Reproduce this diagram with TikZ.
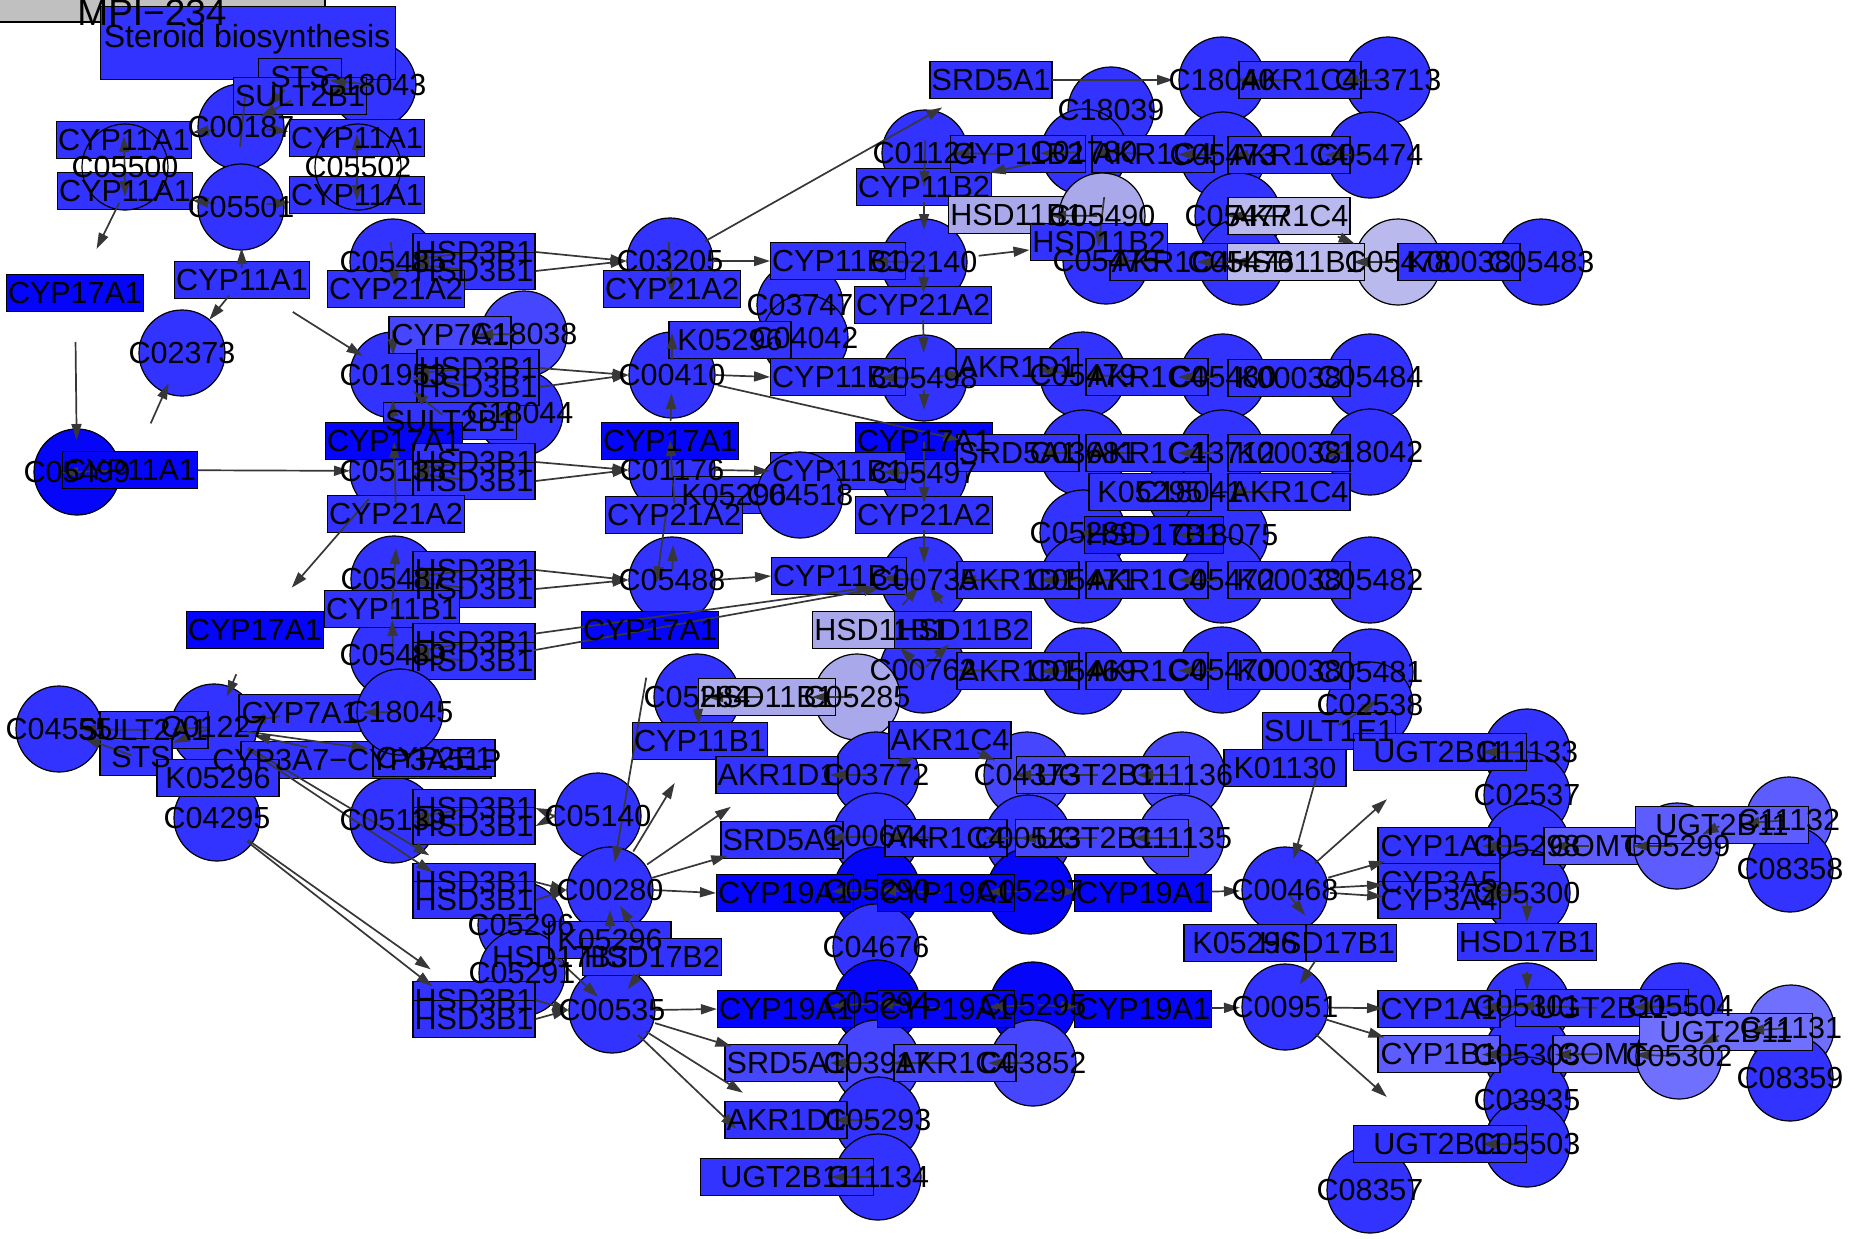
\documentclass[tikz,border=0pt]{standalone}
\usepackage{fontspec}
\usepackage{etoolbox}
\setmainfont{Liberation Sans}
\usetikzlibrary{arrows.meta,calc}
\definecolor{cm}{RGB}{51,51,255}
\definecolor{cm2}{RGB}{32,32,255}
\definecolor{cd}{RGB}{5,5,250}
\definecolor{cl}{RGB}{70,70,255}
\definecolor{cl2}{RGB}{92,92,255}
\definecolor{cl3}{RGB}{112,112,255}
\definecolor{lav}{RGB}{168,168,234}
\definecolor{lav2}{RGB}{185,185,238}
\definecolor{eg}{RGB}{55,55,55}
\definecolor{hdr}{RGB}{192,192,192}
\newcommand\myfont{\fontsize{30.5}{30.5}\selectfont}
\tikzset{
 cpd/.style={circle,draw=black,line width=1.2pt,fill=cm,minimum size=86pt,inner sep=0pt},
 enz/.style={rectangle,draw=black,line width=1.2pt,fill=cm,minimum height=37pt,minimum width=122pt,inner xsep=1.5pt,inner ysep=0pt,font=\myfont},
 txt/.style={inner sep=0pt,font=\myfont},
 arr/.style={draw=eg,line width=1.7pt,-{Triangle[length=16pt,width=10pt]}},
 ln/.style={draw=eg,line width=1.7pt},
}
\newcommand\alltexts{}
\newcommand\mycp[5][]{\node[cpd,#1] (#2) at (#3,#4) {};\gappto\alltexts{\node[txt] at (#3,#4) {#5};}}
\newcommand\myen[5][]{\node[enz,#1] (#2) at (#3,#4) {\phantom{#5}};\gappto\alltexts{\node[txt] at (#3,#4) {#5};}}
\newcommand\myed[4]{\draw[arr,shorten <=#3pt,shorten >=#4pt] (#1.center) -- (#2.center);}
\begin{document}
\begin{tikzpicture}[x=1pt,y=-1pt]
\useasboundingbox (0,0) rectangle (1855,1239);
\clip (0,0) rectangle (1855,1239);
\fill[white] (0,0) rectangle (1855,1239);
% header
\draw[fill=hdr,line width=1.2pt] (-5,-10) rectangle (325,22);
\mycp{c18043}{373}{85}{C18043}
\node[enz,minimum width=295pt,minimum height=73pt,anchor=north west] (steroid) at (100,6) {};
% ---------- compounds ----------
\mycp{c00187}{241}{127}{C00187}
\mycp{c05501}{241}{207}{C05501}
\mycp{c02373}{182}{353}{C02373}
\mycp[fill=cd]{c05499}{77}{472}{C05499}
\mycp{c05485}{393}{262}{C05485}
\mycp[fill=cl]{c18038}{524}{334}{C18038}
\mycp{c01953}{393}{375}{C01953}
\mycp{c18044}{520}{413}{C18044}
\mycp{c05138}{393}{471}{C05138}
\mycp{c05487}{394}{579}{C05487}
\mycp{c05489}{393}{655}{C05489}
\mycp{c03205}{670}{261}{C03205}
\mycp{c03747}{800}{305}{C03747}
\mycp{c04042}{805}{338}{C04042}
\mycp{c00410}{672}{375}{C00410}
\mycp{c01176}{672}{470}{C01176}
\mycp{c05488}{672}{580}{C05488}
\mycp{c01124}{925}{153}{C01124}
\mycp{c02140}{924}{262}{C02140}
\mycp{c05498}{924}{378}{C05498}
\mycp{c05497}{924}{473}{C05497}
\mycp{c00735}{924}{580}{C00735}
\mycp{c00762}{923}{670}{C00762}
\mycp{c18039}{1111}{110}{C18039}
\mycp{c18040}{1222}{80}{C18040}
\mycp{c13713}{1388}{80}{C13713}
\mycp{c01780}{1084}{152}{C01780}
\mycp{c05473}{1223}{155}{C05473}
\mycp{c05474}{1370}{155}{C05474}
\mycp{c05477}{1238}{216}{C05477}
\mycp{c05475}{1106}{261}{C05475}
\mycp{c05476}{1241}{262}{C05476}
\mycp[fill=lav2]{c05478}{1398}{262}{C05478}
\mycp{c05483}{1541}{262}{C05483}
\mycp{c05479}{1083}{375}{C05479}
\mycp{c05480}{1223}{377}{C05480}
\mycp{c05484}{1370}{377}{C05484}
\mycp{c03681}{1083}{453}{C03681}
\mycp{c18041}{1190}{492}{C18041}
\mycp{c13712}{1222}{453}{C13712}
\mycp{c18042}{1370}{452}{C18042}
\mycp{c05289}{1083}{533}{C05289}
\mycp{c18075}{1225}{535}{C18075}
\mycp{c05471}{1083}{580}{C05471}
\mycp{c05472}{1222}{580}{C05472}
\mycp{c05482}{1370}{580}{C05482}
\mycp{c05469}{1083}{671}{C05469}
\mycp{c05470}{1222}{670}{C05470}
\mycp{c05481}{1370}{672}{C05481}
\mycp{c02538}{1370}{705}{C02538}
\mycp{c11133}{1527}{752}{C11133}
\mycp{c02537}{1527}{795}{C02537}
\mycp{c05284}{697}{697}{C05284}
\mycp[fill=lav]{c05285}{857}{697}{C05285}
\mycp{c03772}{876}{775}{C03772}
\mycp{c00674}{876}{836}{C00674}
\mycp[fill=cd]{c05290}{877}{890}{C05290}
\mycp{c04676}{876}{947}{C04676}
\mycp[fill=cd]{c05294}{877}{1003}{C05294}
\mycp[fill=cl]{c03917}{877}{1063}{C03917}
\mycp{c05293}{878}{1120}{C05293}
\mycp{c11134}{878}{1177}{C11134}
\mycp[fill=cl]{c04373}{1027}{775}{C04373}
\mycp{c00523}{1028}{838}{C00523}
\mycp[fill=cd]{c05297}{1030}{891}{C05297}
\mycp[fill=cd]{c05295}{1033}{1005}{C05295}
\mycp[fill=cl]{c03852}{1033}{1063}{C03852}
\mycp[fill=cl]{c11136}{1182}{775}{C11136}
\mycp[fill=cl]{c11135}{1181}{838}{C11135}
\mycp{c00468}{1285}{890}{C00468}
\mycp{c00951}{1285}{1007}{C00951}
\mycp{c05298}{1527}{846}{C05298}
\mycp{c05300}{1527}{893}{C05300}
\mycp{c05301}{1527}{1006}{C05301}
\mycp{c05303}{1527}{1055}{C05303}
\mycp{c03935}{1527}{1100}{C03935}
\mycp{c05503}{1527}{1144}{C05503}
\mycp{c08357}{1370}{1190}{C08357}
\mycp[fill=cl2]{c11132}{1789}{820}{C11132}
\mycp{c08358}{1790}{869}{C08358}
\mycp{c05504}{1680}{1006}{C05504}
\mycp[fill=cl3]{c11131}{1791}{1028}{C11131}
\mycp{c08359}{1790}{1078}{C08359}
\mycp{c04555}{59}{729}{C04555}
\mycp{c01227}{214}{727}{C01227}
\mycp{c04295}{217}{818}{C04295}
\mycp{c05139}{393}{820}{C05139}
\mycp{c05140}{598}{816}{C05140}
\mycp{c00280}{610}{890}{C00280}
\mycp{c05296}{521}{925}{C05296}
\mycp{c05291}{522}{973}{C05291}
\mycp{c00535}{612}{1010}{C00535}
% ---------- enzymes ----------
\myen[minimum width=83pt]{sts1}{300}{77}{STS}
\myen{sult2b1a}{300}{96}{SULT2B1}
\myen{cyp11a1a}{124}{140}{CYP11A1}
\myen{cyp11a1b}{125}{191}{CYP11A1}
\myen{cyp11a1c}{357}{138}{CYP11A1}
\myen{cyp11a1cc}{357}{195}{CYP11A1}
\myen[fill=cd]{cyp17a1a}{75}{293}{CYP17A1}
\myen{cyp11a1d}{242}{280}{CYP11A1}
\myen[fill=cd]{cyp11a1e}{130}{470}{CYP11A1}
\myen{hsdA1}{474}{252}{HSD3B1}
\myen{hsdA2}{474}{271}{HSD3B1}
\myen{cyp21a2a}{396}{289}{CYP21A2}
\myen[fill=cl]{cyp7a1a}{450}{335}{CYP7A1}
\myen{hsdB1}{478}{368}{HSD3B1}
\myen{hsdB2}{478}{387}{HSD3B1}
\myen{sult2b1b}{450}{421}{SULT2B1}
\myen[fill=cd]{cyp17a1b}{394}{441}{CYP17A1}
\myen{hsdC1}{474}{462}{HSD3B1}
\myen{hsdC2}{474}{481}{HSD3B1}
\myen{cyp21a2b}{396}{514}{CYP21A2}
\myen{hsdD1}{474}{570}{HSD3B1}
\myen{hsdD2}{474}{589}{HSD3B1}
\myen{cyp11b1a}{392}{609}{CYP11B1}
\myen{hsdE1}{474}{642}{HSD3B1}
\myen{hsdE2}{474}{661}{HSD3B1}
\myen[fill=cd]{cyp17a1c}{255}{630}{CYP17A1}
\myen{cyp21a2c}{672}{289}{CYP21A2}
\myen{k05296a}{730}{340}{K05296}
\myen[fill=cd]{cyp17a1d}{670}{441}{CYP17A1}
\myen{k05296b}{734}{495}{K05296}
\myen{cyp21a2d}{674}{515}{CYP21A2}
\myen[fill=cd]{cyp17a1e}{650}{630}{CYP17A1}
\myen{cyp11b1b}{838}{261}{CYP11B1}
\myen{cyp21a2e}{923}{305}{CYP21A2}
\myen{cyp11b1c}{838}{377}{CYP11B1}
\myen[fill=cd]{cyp17a1f}{924}{441}{CYP17A1}
\myen{cyp11b1d}{838}{471}{CYP11B1}
\myen{cyp21a2f}{924}{515}{CYP21A2}
\myen{cyp11b1e}{839}{576}{CYP11B1}
\myen[fill=lav]{hsd11b1a}{881}{630}{HSD11B1}
\myen{hsd11b2a}{963}{630}{HSD11B2}
\myen{cyp11b2a}{924}{187}{CYP11B2}
\myen{srd5a1a}{991}{80}{SRD5A1}
\myen{akr1c4r0}{1300}{80}{AKR1C4}
\myen{cyp11b2b}{1018}{154}{CYP11B2}
\myen{akr1c4r1a}{1153}{154}{AKR1C4}
\myen{akr1c4r1b}{1289}{155}{AKR1C4}
\myen[fill=lav]{hsd11b1b}{1017}{215}{HSD11B1}
\myen[fill=lav2]{akr1c4lav}{1289}{216}{AKR1C4}
\myen{akr1c4r2}{1171}{262}{AKR1C4}
\myen[fill=lav2]{hsd11b1c}{1296}{262}{HSD11B1}
\myen{k00038a}{1459}{262}{K00038}
\myen{akr1d1a}{1017}{367}{AKR1D1}
\myen{akr1c4r3}{1147}{377}{AKR1C4}
\myen{k00038b}{1289}{378}{K00038}
\myen{srd5a1b}{1018}{453}{SRD5A1}
\myen{akr1c4r4}{1147}{453}{AKR1C4}
\myen{k00038c}{1289}{453}{K00038}
\myen{k05295}{1150}{492}{K05295}
\myen{akr1c4r5}{1289}{492}{AKR1C4}
\myen[fill=cm2]{hsd17b1a}{1154}{535}{HSD17B1}
\myen{akr1d1b}{1018}{580}{AKR1D1}
\myen{akr1c4r6}{1147}{580}{AKR1C4}
\myen{k00038d}{1289}{580}{K00038}
\myen{akr1d1c}{1018}{671}{AKR1D1}
\myen{akr1c4r7}{1147}{671}{AKR1C4}
\myen{k00038e}{1289}{671}{K00038}
\myen{sult1e1}{1329}{731}{SULT1E1}
\myen{k01130}{1285}{768}{K01130}
\myen[minimum width=173pt]{ugt2b11a}{1440}{752}{UGT2B11}
\myen{cyp11b1f}{700}{741}{CYP11B1}
\myen[fill=lav]{hsd11b1d}{767}{697}{HSD11B1}
\myen{akr1d1d}{777}{775}{AKR1D1}
\myen{akr1c4m1}{950}{740}{AKR1C4}
\myen[fill=cl,minimum width=173pt]{ugt2b11b}{1103}{775}{UGT2B11}
\myen{srd5a1c}{782}{840}{SRD5A1}
\myen{akr1c4m2}{946}{838}{AKR1C4}
\myen[fill=cl,minimum width=173pt]{ugt2b11c}{1102}{838}{UGT2B11}
\myen[fill=cd]{cyp19a1a}{785}{893}{CYP19A1}
\myen[fill=cd]{cyp19a1b}{946}{893}{CYP19A1}
\myen[fill=cd]{cyp19a1c}{1143}{893}{CYP19A1}
\myen{hsd17b1b}{1327}{943}{HSD17B1}
\myen{k05296c}{1245}{943}{K05296}
\myen[fill=cd]{cyp19a1d}{786}{1009}{CYP19A1}
\myen[fill=cd]{cyp19a1e}{946}{1009}{CYP19A1}
\myen[fill=cd]{cyp19a1f}{1143}{1009}{CYP19A1}
\myen[fill=cl]{srd5a1d}{786}{1063}{SRD5A1}
\myen[fill=cl]{akr1c4m3}{955}{1063}{AKR1C4}
\myen{akr1d1e}{786}{1120}{AKR1D1}
\myen[minimum width=173pt]{ugt2b11d}{787}{1177}{UGT2B11}
\myen{cyp1a1a}{1439}{846}{CYP1A1}
\myen{cyp3a5}{1439}{882}{CYP3A5}
\myen{cyp3a4}{1439}{900}{CYP3A4}
\myen{hsd17b1c}{1527}{942}{HSD17B1}
\myen[fill=cl2,minimum width=100pt]{comta}{1594}{846}{COMT}
\myen{cyp1a1b}{1439}{1009}{CYP1A1}
\myen[minimum width=173pt]{ugt2bf}{1602}{1008}{UGT2B11}
\myen[fill=cl2]{cyp1b1}{1439}{1054}{CYP1B1}
\myen[fill=cl2,minimum width=100pt]{comtb}{1603}{1054}{COMT}
\myen[minimum width=173pt]{ugt2b11h}{1440}{1144}{UGT2B11}
\node[enz,minimum width=108pt] (sult2a1) at (154,730) {};
\node[enz,minimum width=72pt] (sts2) at (136,757) {};
\myen{cyp7a1b}{300}{713}{CYP7A1}
\node[enz,minimum width=250pt] (cyp3a7) at (366,760) {};
\myen{cypb2}{434}{758}{CYP2E1}
\myen{k05296d}{218}{778}{K05296}
\myen{hsdF1}{474}{808}{HSD3B1}
\myen{hsdF2}{474}{826}{HSD3B1}
\myen{hsdG1}{474}{882}{HSD3B1}
\myen{hsdG2}{474}{900}{HSD3B1}
\myen{k05296e}{610}{940}{K05296}
\myen{hsd17b2}{652}{957}{HSD17B2}
\myen{hsdH1}{474}{1000}{HSD3B1}
\myen{hsdH2}{474}{1019}{HSD3B1}
% ---------- shapes drawn on top ----------
\mycp[fill=none]{c05500}{125}{167}{C05500}
\mycp[fill=none]{c05502}{358}{167}{C05502}
\mycp[fill=lav]{c05490}{1102}{216}{C05490}
\mycp{c04518}{800}{495}{C04518}
\mycp{c18045}{400}{712}{C18045}
\mycp[fill=cl2]{c05299}{1677}{846}{C05299}
\mycp[fill=cl3]{c05302}{1679}{1056}{C05302}
\myen{hsd11b2b}{1099}{242}{HSD11B2}
\myen[fill=cl2,minimum width=173pt]{ugt2b11e}{1722}{825}{UGT2B11}
\myen[fill=cl3,minimum width=173pt]{ugt2b11g}{1726}{1032}{UGT2B11}
% ---------- edges ----------
\myed{c00187}{cyp11a1a}{26}{69}
\myed{c00187}{cyp11a1c}{26}{69}
\myed{c05501}{cyp11a1b}{26}{68}
\myed{c05501}{cyp11a1cc}{26}{67}
\draw[arr,{Triangle[length=16pt,width=10pt]}-{Triangle[length=16pt,width=10pt]},shorten <=-4pt,shorten >=-6pt] (cyp11a1a.center) -- (cyp11a1b.center);
\draw[arr,{Triangle[length=16pt,width=10pt]}-{Triangle[length=16pt,width=10pt]},shorten <=-4pt,shorten >=-6pt] (cyp11a1c.center) -- (cyp11a1cc.center);
\myed{cyp11a1d}{c05501}{12}{41}
\myed{c18043}{sts1}{0}{30}
\myed{c18043}{sult2b1a}{0}{30}
\myed{sult2b1a}{c00187}{10}{22}
\myed{sts1}{c00187}{20}{33}
\draw[ln] ($(c00187)+(-1,20)$) -- ($(c00187)+(4,-30)$);
\myed{cyp11a1b}{cyp17a1a}{13}{49}
\myed{cyp17a1a}{c05499}{49}{32}
\myed{cyp11a1e}{c02373}{51}{33}
\myed{cyp11a1d}{c02373}{20}{43}
\myed{cyp11a1d}{c01953}{60}{36}
\myed{cyp11a1e}{c05138}{68}{43}
\myed{cyp11a1e}{c05499}{10}{-15}
% HSD3B1 pairs
\myed{hsdA1}{c05485}{10}{20}
\myed{hsdA2}{c05485}{10}{20}
\draw[arr] (hsdA1.east) -- (c03205.west);
\draw[arr] (hsdA2.east) -- (c03205.west);
\myed{hsdB1}{c01953}{10}{20}
\myed{hsdB2}{c01953}{10}{20}
\draw[arr] (hsdB1.east) -- (c00410.west);
\draw[arr] (hsdB2.east) -- (c00410.west);
\myed{hsdC1}{c05138}{10}{20}
\myed{hsdC2}{c05138}{10}{20}
\draw[arr] (hsdC1.east) -- (c01176.west);
\draw[arr] (hsdC2.east) -- (c01176.west);
\myed{hsdD1}{c05487}{10}{20}
\myed{hsdD2}{c05487}{10}{20}
\draw[arr] (hsdD1.east) -- (c05488.west);
\draw[arr] (hsdD2.east) -- (c05488.west);
\myed{hsdE1}{c05489}{10}{20}
\myed{hsdE2}{c05489}{10}{20}
\myed{hsdE1}{c00735}{61}{52}
\myed{hsdE2}{c00735}{61}{45}
\draw[arr] (c05140.west) -- (hsdF1.east);
\draw[arr] (c05140.west) -- (hsdF2.east);
\myed{hsdF1}{c05139}{10}{20}
\myed{hsdF2}{c05139}{10}{20}
\draw[arr] (hsdG1.east) -- (c00280.west);
\draw[arr] (hsdG2.east) -- (c00280.west);
\draw[arr] (hsdH1.east) -- (c00535.west);
\draw[arr] (hsdH2.east) -- (c00535.west);
\myed{c01227}{hsdG1}{40}{52}
\myed{c01227}{hsdG2}{40}{50}
\myed{c04295}{hsdH1}{38}{53}
\myed{c04295}{hsdH2}{38}{53}
% column 393
\myed{c05485}{cyp21a2a}{-20}{2}
\draw[arr] ($(c01953)+(0,-45)$) -- ($(c01953)+(0,-20)$);
\draw[arr] ($(c01953)+(0,45)$) -- ($(c01953)+(0,25)$);
\myed{cyp21a2b}{cyp17a1b}{11}{1}
\myed{cyp11b1a}{c05487}{0}{-31}
\myed{c05489}{cyp11b1a}{2}{11}
\myed{c05138}{cyp17a1c}{37}{56}
\myed{c18038}{cyp7a1a}{5}{27}
\myed{sult2b1b}{c01953}{10}{25}
\myed{c18044}{sult2b1b}{5}{45}
% column 672
\myed{c03205}{cyp21a2c}{-19}{-4}
\draw[arr] ($(c00410)+(0,-15)$) -- ($(c00410)+(0,-42)$);
\myed{cyp17a1d}{c00410}{20}{18}
\myed{c01176}{cyp17a1d}{-33}{-1}
\myed{c05488}{cyp21a2d}{10}{30}
\myed{c01176}{cyp17a1e}{35}{48}
\draw[arr] (c01176.east) -- (cyp11b1d.west);
\draw[arr] (c00410.east) -- (cyp11b1c.west);
\draw[arr] (c03205.east) -- (cyp11b1b.west);
\draw[arr] (c05488.east) -- (cyp11b1e.west);
\myed{c03205}{srd5a1a}{40}{56}
\myed{c00410}{srd5a1b}{47}{60}
\myed{cyp21a2d}{c00280}{165}{28}
% column 925
\myed{c02140}{cyp11b1b}{5}{34}
\myed{c05498}{cyp11b1c}{5}{42}
\myed{c05497}{cyp11b1d}{5}{45}
\myed{c00735}{cyp11b1e}{5}{43}
\myed{c01124}{cyp11b2a}{-13}{0}
\myed{cyp11b2a}{c02140}{15}{32}
\myed{c02140}{cyp21a2e}{3}{12}
\myed{cyp21a2e}{c05498}{15}{25}
\myed{c05498}{cyp17a1f}{12}{31}
\myed{cyp17a1f}{cyp21a2f}{1}{12}
\myed{cyp21a2f}{c00735}{15}{17}
\myed{hsd11b2a}{c00735}{34}{9}
\myed{hsd11b1a}{c00735}{33}{8}
\myed{c00762}{hsd11b2a}{4}{20}
\myed{c00762}{hsd11b1a}{0}{26}
\myed{akr1d1c}{c00762}{10}{35}
\myed{akr1d1b}{c00735}{10}{36}
\myed{c05498}{akr1d1a}{10}{55}
\myed{c02140}{hsd11b2b}{55}{70}
% right block
\myed{cyp11b2b}{c01124}{5}{28}
\myed{c01780}{cyp11b2a}{40}{67}
\myed{c01780}{cyp11b2b}{5}{22}
\myed{akr1c4r1a}{c01780}{5}{9}
\myed{c05473}{akr1c4r1a}{5}{25}
\myed{akr1c4r1b}{c05473}{5}{9}
\myed{c05474}{akr1c4r1b}{5}{36}
\myed{srd5a1a}{c18040}{61}{49}
\myed{akr1c4r0}{c18040}{5}{16}
\myed{c13713}{akr1c4r0}{5}{42}
\myed{c05490}{hsd11b1b}{5}{33}
\myed{c05490}{hsd11b2b}{-19}{-5}
\myed{akr1c4lav}{c05477}{5}{-10}
\myed{akr1c4lav}{c05478}{53}{47}
\myed{akr1c4r2}{c05475}{5}{6}
\myed{c05476}{akr1c4r2}{5}{26}
\myed{hsd11b1c}{c05476}{5}{-9}
\myed{c05478}{hsd11b1c}{5}{57}
\myed{c05479}{akr1d1a}{5}{21}
\myed{akr1c4r3}{c05479}{5}{2}
\myed{c05480}{akr1c4r3}{5}{31}
\myed{c03681}{srd5a1b}{5}{22}
\myed{akr1c4r4}{c03681}{5}{2}
\myed{c13712}{akr1c4r4}{5}{31}
\myed{k00038c}{c18042}{38}{25}
\myed{akr1c4r5}{c18041}{5}{40}
\myed{hsd17b1a}{c05289}{5}{-5}
\myed{c18075}{hsd17b1a}{5}{24}
\myed{c05471}{akr1d1b}{5}{22}
\myed{akr1c4r6}{c05471}{5}{2}
\myed{c05472}{akr1c4r6}{5}{31}
\myed{c05469}{akr1d1c}{5}{22}
\myed{akr1c4r7}{c05469}{5}{2}
\myed{c05470}{akr1c4r7}{5}{31}
\myed{sult1e1}{c02538}{11}{-8}
\myed{sult1e1}{c00468}{48}{32}
\myed{c00468}{ugt2b11a}{40}{71}
\myed{c00468}{cyp1a1a}{45}{56}
\myed{c00468}{cyp3a5}{45}{56}
\myed{c00468}{cyp3a4}{45}{56}
\myed{c00468}{hsd17b1b}{5}{35}
\myed{hsd17b1b}{c00951}{20}{27}
% CYP19A1 rows
\draw[arr] (c00280.east) -- (cyp19a1a.west);
\myed{c05290}{cyp19a1a}{5}{47}
\myed{cyp19a1b}{c05290}{5}{3}
\myed{c05297}{cyp19a1b}{5}{41}
\myed{c05297}{cyp19a1c}{5}{66}
\myed{cyp19a1c}{c00468}{68}{45}
\draw[arr] (c00535.east) -- (cyp19a1d.west);
\myed{c05294}{cyp19a1d}{5}{44}
\myed{cyp19a1e}{c05294}{5}{0}
\myed{c05295}{cyp19a1e}{5}{42}
\myed{c05295}{cyp19a1f}{5}{66}
\myed{cyp19a1f}{c00951}{68}{45}
\myed{c00951}{cyp1a1b}{42}{56}
\myed{c00951}{cyp1b1}{42}{57}
\myed{c00951}{ugt2b11h}{40}{71}
\myed{c00535}{srd5a1d}{45}{57}
\myed{c00535}{akr1d1e}{40}{51}
\myed{c00535}{ugt2b11d}{36}{70}
\myed{c00280}{cyp11b1f}{45}{49}
\myed{c00280}{akr1d1d}{45}{56}
\myed{c00280}{srd5a1c}{43}{57}
\myed{k05296e}{c00280}{10}{20}
\myed{hsd17b2}{c00280}{30}{19}
\myed{c05296}{c00535}{40}{19}
\myed{hsd17b2}{c00535}{20}{26}
% lower left
\myed{c18045}{cyp7a1b}{5}{63}
\myed{cyp7a1b}{c01227}{20}{36}
\myed{c01227}{cypb2}{33}{67}
\myed{cyp3a7}{c01227}{60}{41}
\myed{cyp17a1c}{c01227}{48}{33}
\myed{sult2a1}{c04555}{5}{21}
\myed{sts2}{c04555}{5}{27}
\myed{c01227}{sult2a1}{5}{18}
\myed{c01227}{sts2}{5}{40}
% right bottom
\myed{c05298}{cyp1a1a}{5}{43}
\myed{c05300}{cyp3a5}{5}{43}
\myed{c05300}{cyp3a4}{5}{43}
\myed{c05300}{hsd17b1c}{0}{20}
\myed{hsd17b1c}{c05301}{30}{16}
\myed{comta}{c05298}{5}{25}
\myed{c05299}{comta}{5}{39}
\myed{ugt2b11e}{c05299}{3}{28}
\myed{c11132}{ugt2b11e}{5}{21}
\myed{c05301}{cyp1a1b}{5}{43}
\myed{ugt2bf}{c05301}{5}{-9}
\myed{c05504}{ugt2bf}{5}{31}
\myed{c11131}{ugt2b11g}{5}{22}
\myed{ugt2b11g}{c05302}{8}{26}
\myed{c05302}{comtb}{5}{32}
\myed{comtb}{c05303}{5}{28}
\myed{c05303}{cyp1b1}{5}{43}
\myed{c05503}{ugt2b11h}{5}{42}
\myed{c11133}{ugt2b11a}{5}{42}
% middle lower
\myed{c05285}{hsd11b1d}{5}{45}
\myed{hsd11b1d}{c05284}{5}{10}
\myed{c05284}{cyp11b1f}{5}{16}
\myed{c03772}{akr1d1d}{5}{53}
\myed{c03772}{akr1c4m1}{20}{39}
\myed{akr1c4m1}{c04373}{30}{35}
\myed{ugt2b11b}{c04373}{5}{-12}
\myed{c11136}{ugt2b11b}{5}{34}
\myed{c00674}{srd5a1c}{5}{46}
\myed{akr1c4m2}{c00674}{5}{11}
\myed{c00523}{akr1c4m2}{5}{39}
\myed{ugt2b11c}{c00523}{5}{-8}
\myed{c11135}{ugt2b11c}{5}{31}
\myed{c03917}{srd5a1d}{5}{44}
\myed{c03852}{akr1c4m3}{5}{33}
\myed{akr1c4m3}{c03917}{5}{16}
\myed{c05293}{akr1d1e}{5}{48}
\myed{c11134}{ugt2b11d}{5}{44}
% ---------- all texts on top ----------
\alltexts
\node[txt] (sult2a1t) at (143,730) {SULT2A1};
\node[txt] (sts2t) at (141,757) {STS};
\node[txt] (cyp3a7t) at (357,760) {CYP3A7−CYP3A51P};
\node[txt] (hsd17b3) at (560,957) {HSD17B3};
\node[font=\fontsize{37}{37}\selectfont] (mpi) at (152,13) {MPI−234};
\node[font=\fontsize{32}{32}\selectfont] (sttext) at (247,39) {Steroid biosynthesis};
\end{tikzpicture}
\end{document}
